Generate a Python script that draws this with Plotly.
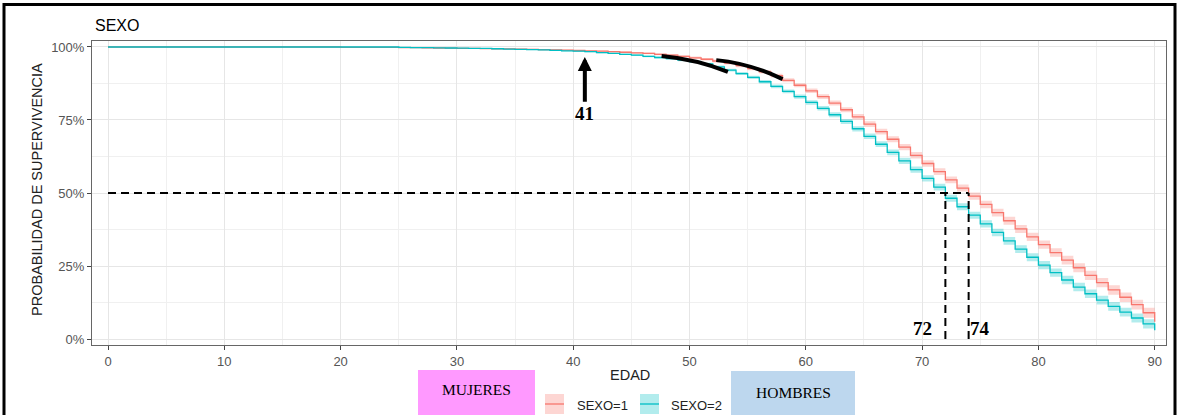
import plotly.graph_objects as go

# ---------------- data ----------------
ages = list(range(0, 91))

surv_sexo1 = [1.0] * 20 + [
    .999, .999, .999, .9985, .9985, .998, .9975, .997, .9965, .996,      # 20-29
    .9955, .995, .9945, .994, .9935, .993, .992, .991, .990, .989,       # 30-39
    .988, .987, .9855, .984, .982, .980, .978, .975, .972, .968,         # 40-49
    .963, .958, .952, .945, .936, .926, .915, .902, .886, .869,          # 50-59
    .850, .830, .808, .785, .761, .736, .710, .684, .657, .629,          # 60-69
    .601, .573, .545, .517, .489, .461, .433, .405, .377, .350,          # 70-79
    .323, .296, .270, .244, .218, .193, .168, .143, .118, .090,          # 80-89
    .059]                                                                # 90

surv_sexo2 = [1.0] * 20 + [
    1.0, 1.0, 1.0, 1.0, 1.0, .9985, .998, .9975, .997, .9965,            # 20-29
    .996, .9955, .995, .994, .993, .992, .991, .990, .9885, .987,        # 30-39
    .9855, .984, .981, .978, .975, .972, .968, .964, .960, .955,         # 40-49
    .950, .942, .932, .921, .909, .896, .881, .865, .848, .830,          # 50-59
    .810, .790, .768, .745, .720, .694, .667, .639, .610, .580,          # 60-69
    .550, .520, .482, .453, .424, .394, .365, .336, .308, .280,          # 70-79
    .253, .227, .202, .178, .155, .133, .112, .092, .072, .052,          # 80-89
    .030]                                                                # 90

ci_sexo1 = [0.0] * 20 + [
    .0007, .0007, .0007, .0008, .0008, .0009, .0009, .0010, .0010, .0011,
    .0012, .0013, .0014, .0015, .0015, .0016, .0017, .0018, .0019, .0020,
    .0021, .0022, .0024, .0026, .0028, .0030, .0032, .0034, .0036, .0039,
    .0042, .0045, .0048, .0051, .0054, .0057, .0060, .0064, .0068, .0072,
    .0076, .0080, .0084, .0088, .0092, .0096, .0100, .0104, .0107, .0110,
    .0113, .0116, .0119, .0122, .0125, .0128, .0131, .0134, .0137, .0140,
    .0143, .0146, .0149, .0152, .0155, .0158, .0161, .0164, .0167, .0170,
    .0172]

ci_sexo2 = [0.0] * 20 + [
    .0003, .0003, .0003, .0003, .0003, .0007, .0007, .0008, .0008, .0009,
    .0010, .0011, .0012, .0013, .0013, .0014, .0015, .0016, .0017, .0018,
    .0019, .0020, .0022, .0024, .0026, .0028, .0030, .0032, .0034, .0037,
    .0040, .0043, .0046, .0049, .0052, .0055, .0058, .0062, .0066, .0070,
    .0074, .0078, .0082, .0086, .0090, .0094, .0098, .0101, .0104, .0107,
    .0110, .0113, .0116, .0119, .0122, .0125, .0128, .0131, .0134, .0137,
    .0139, .0141, .0143, .0145, .0147, .0149, .0151, .0153, .0155, .0157,
    .0159]

series_names = ["SEXO=1", "SEXO=2"]
x_ticks = [0, 10, 20, 30, 40, 50, 60, 70, 80, 90]
y_ticks = [0, 0.25, 0.5, 0.75, 1.0]
y_tick_labels = ["0%", "25%", "50%", "75%", "100%"]

median_level = 0.5
median_ages = [72, 74]          # SEXO=2 (HOMBRES), SEXO=1 (MUJERES)
arrow_age = 41
# hand-drawn curved marks: (start, control, end) in (age, survival)
curve_marks = [
    ((47.6, 0.969), (50.55, 0.958), (53.3, 0.915)),
    ((52.3, 0.955), (55.25, 0.9435), (58.0, 0.890)),
]

RED = "#F8766D"
TEAL = "#00BFC4"
RED_FILL = "rgba(248,118,109,0.30)"
TEAL_FILL = "rgba(0,191,196,0.30)"

# ---------------- layout helpers (pixel -> paper) ----------------
W, H = 1178, 415
ML, MR, MT, MB = 92, 12, 41, 70
PW, PH = W - ML - MR, H - MT - MB


def px(xp):
    return (xp - ML) / PW


def py(yp):
    return (H - MB - yp) / PH


fig = go.Figure()

for surv, ci, fill in [(surv_sexo1, ci_sexo1, RED_FILL), (surv_sexo2, ci_sexo2, TEAL_FILL)]:
    upper = [min(1.0, s + c) for s, c in zip(surv, ci)]
    lower = [max(0.0, s - c) for s, c in zip(surv, ci)]
    fig.add_trace(go.Scatter(x=ages, y=upper, mode="lines", line=dict(width=0, shape="hv"),
                             hoverinfo="skip", showlegend=False))
    fig.add_trace(go.Scatter(x=ages, y=lower, mode="lines", line=dict(width=0, shape="hv"),
                             fill="tonexty", fillcolor=fill, hoverinfo="skip", showlegend=False))

for surv, color, name in [(surv_sexo1, RED, series_names[0]), (surv_sexo2, TEAL, series_names[1])]:
    fig.add_trace(go.Scatter(x=ages, y=surv, mode="lines", name=name,
                             line=dict(color=color, width=1.3, shape="hv"), showlegend=False))

shapes = []
dash = dict(color="black", width=2, dash="8px,5px")
shapes.append(dict(type="line", xref="x", yref="y", x0=0, x1=max(median_ages),
                   y0=median_level, y1=median_level, line=dash))
for m in median_ages:
    shapes.append(dict(type="line", xref="x", yref="y", x0=m, x1=m, y0=0, y1=median_level, line=dash))

for (p0, c, p1) in curve_marks:
    shapes.append(dict(type="path", xref="x", yref="y",
                       path=f"M {p0[0]},{p0[1]} Q {c[0]},{c[1]} {p1[0]},{p1[1]}",
                       line=dict(color="black", width=4)))

# outer frame of the picture
shapes.append(dict(type="rect", xref="paper", yref="paper", x0=px(4), x1=px(1175),
                   y0=py(430), y1=py(4.5), line=dict(color="black", width=3), layer="above"))

# coloured boxes
shapes.append(dict(type="rect", xref="paper", yref="paper", x0=px(418), x1=px(535),
                   y0=py(416), y1=py(370), fillcolor="#FF99FF", line=dict(width=0)))
shapes.append(dict(type="rect", xref="paper", yref="paper", x0=px(731), x1=px(855),
                   y0=py(416), y1=py(371), fillcolor="#BDD7EE", line=dict(width=0)))

# legend keys
for x0, fill, col in [(545, RED_FILL, RED), (640, TEAL_FILL, TEAL)]:
    shapes.append(dict(type="rect", xref="paper", yref="paper", x0=px(x0), x1=px(x0 + 19),
                       y0=py(414), y1=py(394), fillcolor=fill, line=dict(width=0)))
    shapes.append(dict(type="line", xref="paper", yref="paper", x0=px(x0), x1=px(x0 + 19),
                       y0=py(404), y1=py(404), line=dict(color=col, width=1.3)))

sans = "Liberation Sans, Arial, sans-serif"
serif = "Liberation Serif, Times New Roman, serif"

annotations = [
    dict(text="SEXO", xref="paper", yref="paper", x=px(93), y=py(25), xanchor="left", yanchor="middle",
         showarrow=False, font=dict(family=sans, size=16, color="black")),
    dict(text="PROBABILIDAD DE SUPERVIVENCIA", xref="paper", yref="paper", x=px(37), y=py(190),
         textangle=-90, showarrow=False, xanchor="center", yanchor="middle",
         font=dict(family=sans, size=14.5, color="#222222")),
    dict(text="EDAD", xref="paper", yref="paper", x=px(630), y=py(375), showarrow=False,
         xanchor="center", yanchor="middle", font=dict(family=sans, size=14.5, color="#222222")),
    dict(text="MUJERES", xref="paper", yref="paper", x=px(476), y=py(389), showarrow=False,
         xanchor="center", yanchor="middle", font=dict(family=serif, size=15.5, color="black")),
    dict(text="HOMBRES", xref="paper", yref="paper", x=px(793), y=py(392), showarrow=False,
         xanchor="center", yanchor="middle", font=dict(family=serif, size=15.5, color="black")),
    dict(text=series_names[0], xref="paper", yref="paper", x=px(575), y=py(405), showarrow=False,
         xanchor="left", yanchor="middle", font=dict(family=sans, size=13, color="#222222")),
    dict(text=series_names[1], xref="paper", yref="paper", x=px(669), y=py(405), showarrow=False,
         xanchor="left", yanchor="middle", font=dict(family=sans, size=13, color="#222222")),
    dict(text=f"<b>{median_ages[0]}</b>", xref="x", yref="paper", x=median_ages[0] - 2.0, y=py(328),
         showarrow=False, xanchor="center", yanchor="middle",
         font=dict(family=serif, size=19, color="black")),
    dict(text=f"<b>{median_ages[1]}</b>", xref="x", yref="paper", x=median_ages[1] + 0.95, y=py(328),
         showarrow=False, xanchor="center", yanchor="middle",
         font=dict(family=serif, size=19, color="black")),
    dict(text=f"<b>{arrow_age}</b>", xref="x", yref="y", x=arrow_age, y=0.966,
         axref="x", ayref="y", ax=arrow_age, ay=0.771, showarrow=True,
         arrowhead=2, arrowsize=0.7, arrowwidth=4, arrowcolor="black", standoff=0, startstandoff=0,
         font=dict(family=serif, size=19, color="black")),
]

axis_common = dict(
    showline=True, linecolor="#666666", linewidth=1, mirror=True,
    ticks="outside", ticklen=4, tickcolor="#444444", tickwidth=1,
    showgrid=True, gridcolor="#E6E6E6", gridwidth=1, zeroline=False,
    tickfont=dict(family=sans, size=13, color="#555555"),
)

fig.update_layout(
    width=W, height=H,
    margin=dict(l=ML, r=MR, t=MT, b=MB),
    paper_bgcolor="white", plot_bgcolor="white",
    showlegend=False,
    xaxis=dict(range=[-1.376, 90.97], tickvals=x_ticks, ticktext=[str(t) for t in x_ticks],
               minor=dict(dtick=5, tick0=0, showgrid=True, gridcolor="#F0F0F0", gridwidth=0.8, ticklen=0),
               **axis_common),
    yaxis=dict(range=[-0.0205, 1.0205], tickvals=y_ticks, ticktext=y_tick_labels,
               minor=dict(dtick=0.125, tick0=0, showgrid=True, gridcolor="#F0F0F0", gridwidth=0.8, ticklen=0),
               **axis_common),
    shapes=shapes,
    annotations=annotations,
)

fig.write_html("out.html", config={"displayModeBar": False},
               post_script="document.body.style.margin='0';")
